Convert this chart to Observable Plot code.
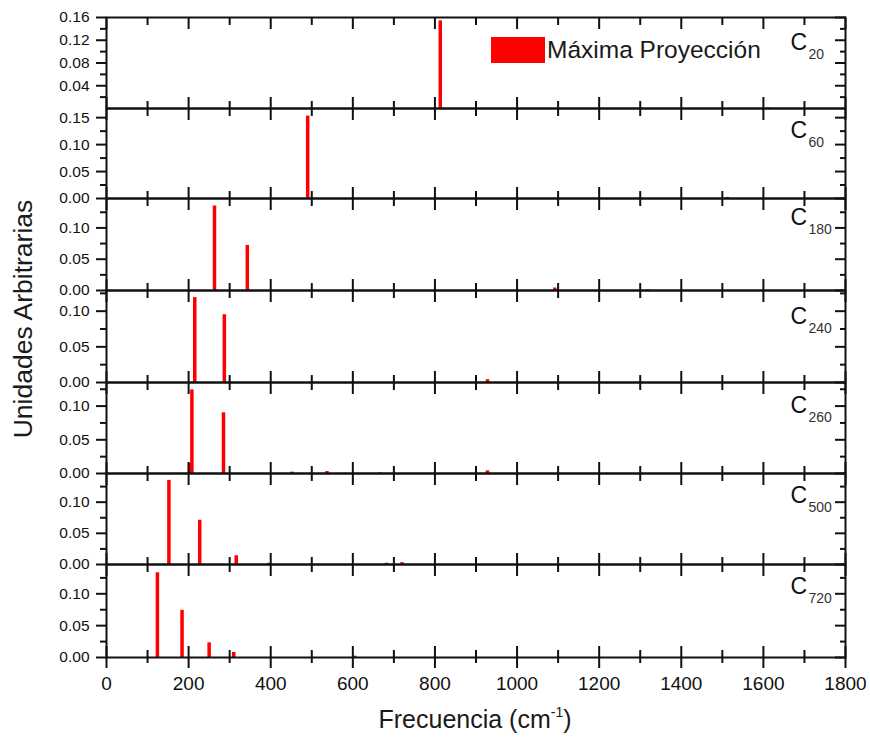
<!DOCTYPE html>
<html lang="es">
<head>
<meta charset="utf-8">
<title>Máxima Proyección — Frecuencia</title>
<script src="https://cdn.jsdelivr.net/npm/d3@7"></script>
<script src="https://cdn.jsdelivr.net/npm/@observablehq/plot@0.6"></script>
<style>
  html, body { margin: 0; padding: 0; background: #fff; overflow: hidden; }
  #figure { position: relative; width: 870px; height: 741px; font-family: "Liberation Sans", Arial, sans-serif; color: #1a1a1a; }
  #figure svg { position: absolute; left: 0; overflow: visible; }
  .ytitle { position: absolute; left: 23px; top: 319px; transform: translate(-50%, -50%) rotate(-90deg); font-size: 26.5px; line-height: 1; white-space: nowrap; }
  .xtitle { position: absolute; left: 475px; top: 707px; transform: translateX(-50%); font-size: 25px; line-height: 1; white-space: nowrap; }
  .xtitle sup { font-size: 14px; line-height: 0; vertical-align: 0; position: relative; top: -11px; }
  .legend { position: absolute; left: 491px; top: 37px; display: flex; align-items: center; z-index: 2; }
  .legend .swatch { width: 54px; height: 26px; background: #ff0000; }
  .legend .name { margin-left: 2px; font-size: 24.5px; line-height: 1; white-space: nowrap; }
</style>
</head>
<body>
<div id="figure"></div>
<script>
// Spectra: frequency (cm^-1) and intensity (arbitrary units) of each cluster
const subscripts = ["20", "60", "180", "240", "260", "500", "720"];

const freqC20 = [813, 1612];
const intC20 = [0.154, 0.001];

const freqC60 = [490, 1512];
const intC60 = [0.153, 0.002];

const freqC180 = [263, 343, 1092, 1318];
const intC180 = [0.135, 0.072, 0.004, 0.001];

const freqC240 = [215, 287, 928];
const intC240 = [0.119, 0.095, 0.004];

const freqC260 = [202, 208, 285, 452, 537, 667, 928];
const intC260 = [0.015, 0.124, 0.090, 0.002, 0.003, 0.001, 0.004];

const freqC500 = [152, 227, 316, 395, 682, 720];
const intC500 = [0.135, 0.071, 0.014, 0.002, 0.002, 0.003];

const freqC720 = [124, 184, 250, 310, 605];
const intC720 = [0.133, 0.074, 0.023, 0.008, 0.002];

// Upper limit of each panel's intensity axis
const yMax = [0.16, 0.167, 0.147, 0.129, 0.135, 0.146, 0.146];

// Axis ticks
const xMajor = [0, 200, 400, 600, 800, 1000, 1200, 1400, 1600, 1800];
const xMinor = [100, 300, 500, 700, 900, 1100, 1300, 1500, 1700];
const yMajorC20 = [0.04, 0.08, 0.12, 0.16];
const yMinorC20 = [0.02, 0.06, 0.10, 0.14];
const yMajorC60 = [0.00, 0.05, 0.10, 0.15];
const yMajorRest = [0.00, 0.05, 0.10];
const yMinorRest = [0.025, 0.075, 0.125];

const legendLabel = "Máxima Proyección";
const xTitle = "Frecuencia (cm";
const yTitle = "Unidades Arbitrarias";

// ---- layout ----
const W = 870;
const left = 106, right = 845;
const edges = [17, 108, 198, 290, 382, 473, 564, 657]; // panel boundaries (px)
const labelDy = [16, 13, 10, 17, 14, 13, 13];          // "C_n" offset from panel top
const ink = "#111";
const red = "#ff0000";

const freqs = [freqC20, freqC60, freqC180, freqC240, freqC260, freqC500, freqC720];
const ints = [intC20, intC60, intC180, intC240, intC260, intC500, intC720];

const fig = document.getElementById("figure");
const blank = () => "";

freqs.forEach((fr, i) => {
  const rows = fr.map((f, j) => ({f, v: ints[i][j]}));
  const last = i === freqs.length - 1;
  const mt = 14, mb = last ? 60 : 14;
  const ph = edges[i + 1] - edges[i];
  const yMaj = i === 0 ? yMajorC20 : i === 1 ? yMajorC60 : yMajorRest;
  const yMin = i === 0 ? yMinorC20 : yMinorRest.filter(t => t < yMax[i]);

  const marks = [
    Plot.ruleX(rows, {x: "f", y1: 0, y2: "v", stroke: red, strokeWidth: 3.5}),
    // left axis: labels + outward ticks
    Plot.axisY({ticks: yMaj, anchor: "left", tickSize: 10, tickPadding: 7, tickFormat: d3.format(".2f"),
                fontSize: 15.5, strokeWidth: 2, label: null}),
    Plot.axisY({ticks: yMin, anchor: "left", tickSize: 6, tickFormat: blank, strokeWidth: 2, label: null}),
    // right axis: inward ticks
    Plot.axisY({ticks: yMaj, anchor: "right", tickSize: 11, dx: -11, tickFormat: blank, strokeWidth: 2, label: null}),
    Plot.axisY({ticks: yMin, anchor: "right", tickSize: 6, dx: -6, tickFormat: blank, strokeWidth: 2, label: null}),
    // top axis: inward ticks
    Plot.axisX({ticks: xMajor, anchor: "top", tickSize: 11, dy: 11, tickFormat: blank, strokeWidth: 2, label: null}),
    Plot.axisX({ticks: xMinor, anchor: "top", tickSize: 7, dy: 7, tickFormat: blank, strokeWidth: 2, label: null}),
    // bottom axis: inward ticks (crossing on the last panel)
    Plot.axisX({ticks: xMajor, anchor: "bottom", tickSize: last ? 22 : 11, dy: -11, tickFormat: blank, strokeWidth: 2, label: null}),
    Plot.axisX({ticks: xMinor, anchor: "bottom", tickSize: last ? 13 : 7, dy: -7, tickFormat: blank, strokeWidth: 2, label: null}),
    Plot.frame({stroke: ink, strokeWidth: 2}),
    // panel name C_n
    Plot.text(["C"], {frameAnchor: "top-right", dx: -55, dy: labelDy[i], textAnchor: "start", lineAnchor: "top",
                      fontSize: 23, fill: ink}),
    Plot.text([subscripts[i]], {frameAnchor: "top-right", dx: -37, dy: labelDy[i] + 25, textAnchor: "start",
                                lineAnchor: "bottom", fontSize: 14, fill: "#333"})
  ];
  if (last) {
    marks.push(Plot.axisX({ticks: xMajor, anchor: "bottom", tickSize: 0, tickPadding: 19, tickFormat: d3.format("d"),
                           fontSize: 19, label: null}));
  }

  const svg = Plot.plot({
    width: W,
    height: ph + mt + mb,
    marginLeft: left,
    marginRight: W - right,
    marginTop: mt,
    marginBottom: mb,
    x: {domain: [0, 1800], axis: null, label: null},
    y: {domain: [0, yMax[i]], axis: null, label: null},
    style: {background: "none", fontFamily: "'Liberation Sans', Arial, sans-serif", color: ink, overflow: "visible"},
    marks
  });
  svg.style.top = (edges[i] - mt) + "px";
  fig.appendChild(svg);
});

// legend
const legend = document.createElement("div");
legend.className = "legend";
legend.innerHTML = `<div class="swatch"></div><div class="name"></div>`;
legend.querySelector(".name").textContent = legendLabel;
fig.appendChild(legend);

// axis titles
const yt = document.createElement("div");
yt.className = "ytitle";
yt.textContent = yTitle;
fig.appendChild(yt);

const xt = document.createElement("div");
xt.className = "xtitle";
xt.innerHTML = `${xTitle}<sup>-1</sup>)`;
fig.appendChild(xt);
</script>
</body>
</html>
